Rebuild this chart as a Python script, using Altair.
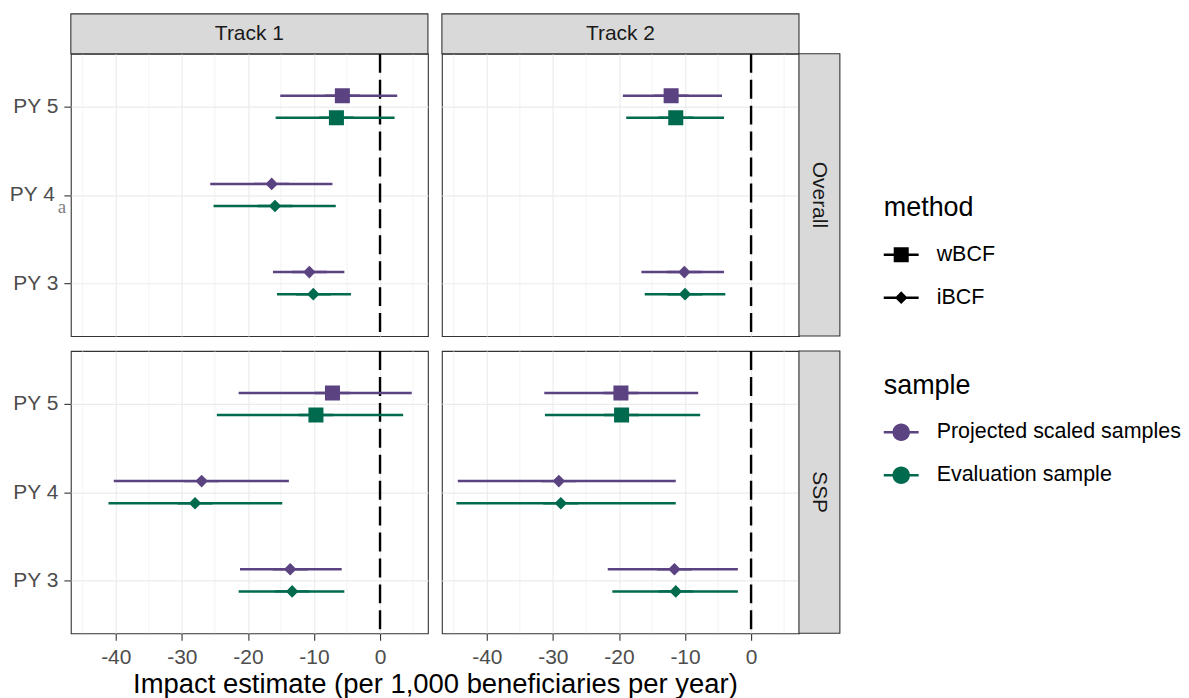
import altair as alt
import pandas as pd

FONT = "Liberation Sans"

# ---------------- data ----------------
tracks = ["Track 1", "Track 2"]
subgroups = ["Overall", "SSP"]
py_levels = ["PY 3", "PY 4", "PY 5"]
samples = ["Projected scaled samples", "Evaluation sample"]
methods = ["wBCF", "iBCF"]

row_track = (["Track 1"] * 6 + ["Track 2"] * 4 + ["Track 1"] * 6 + ["Track 2"] * 6)
row_subgroup = ["Overall"] * 10 + ["SSP"] * 12
row_py = (["PY 5", "PY 5", "PY 4", "PY 4", "PY 3", "PY 3"]
          + ["PY 5", "PY 5", "PY 3", "PY 3"]
          + ["PY 5", "PY 5", "PY 4", "PY 4", "PY 3", "PY 3"]
          + ["PY 5", "PY 5", "PY 4", "PY 4", "PY 3", "PY 3"])
row_sample = ["Projected scaled samples", "Evaluation sample"] * 11
row_method = (["wBCF", "wBCF", "iBCF", "iBCF", "iBCF", "iBCF"]
              + ["wBCF", "wBCF", "iBCF", "iBCF"]
              + ["wBCF", "wBCF", "iBCF", "iBCF", "iBCF", "iBCF"]
              + ["wBCF", "wBCF", "iBCF", "iBCF", "iBCF", "iBCF"])
estimate = [-5.7, -6.6, -16.4, -15.9, -10.7, -10.1,
            -12.1, -11.4, -10.1, -10.0,
            -7.2, -9.7, -27.0, -28.0, -13.6, -13.3,
            -19.7, -19.6, -29.1, -28.8, -11.6, -11.4]
lower = [-15.1, -15.8, -25.7, -25.2, -16.2, -15.6,
         -19.4, -18.9, -16.6, -16.1,
         -21.4, -24.7, -40.3, -41.1, -21.2, -21.4,
         -31.3, -31.2, -44.4, -44.6, -21.7, -21.0]
upper = [2.6, 2.2, -7.2, -6.7, -5.4, -4.4,
         -4.4, -4.1, -4.1, -3.9,
         4.8, 3.5, -13.8, -14.8, -5.8, -5.4,
         -8.0, -7.7, -11.4, -11.4, -2.0, -2.0]

major_ticks = [-40, -30, -20, -10, 0]
minor_ticks = [-45, -35, -25, -15, -5, 5]
x_domain = [-46.8, 7.25]
zero_line = [0]
note_py = ["PY 4"]
note_text = ["a"]
x_title = "Impact estimate (per 1,000 beneficiaries per year)"

df = pd.DataFrame({
    "track": row_track, "subgroup": row_subgroup, "py": row_py,
    "sample": row_sample, "method": row_method,
    "estimate": estimate, "lower": lower, "upper": upper,
})

PURPLE = "#5B4281"
GREEN = "#006A4E"
STRIP_FILL = "#D9D9D9"
BORDER = "#333333"

# legend glyphs: line + marker (custom SVG paths in a [-1,1] box)
LINE = "M-1,-0.071L1,-0.071L1,0.071L-1,0.071Z"
SQ = LINE + " M-0.43,-0.43L0.43,-0.43L0.43,0.43L-0.43,0.43Z"
DI = LINE + " M0,-0.36L0.36,0L0,0.36L-0.36,0Z"
CI = LINE + " M-0.5,0A0.5,0.5 0 1,1 0.5,0A0.5,0.5 0 1,1 -0.5,0Z"

W, H = 358, 283
STRIP = 40
RSTRIP = 41

xs = alt.Scale(domain=x_domain, nice=False, zero=False)
ys = alt.Scale(domain=[-0.6, 2.6], nice=False, zero=False)
cs = alt.Scale(domain=samples, range=[PURPLE, GREEN])
ss = alt.Scale(domain=methods, range=[SQ, DI])

ypos_expr = f"indexof({py_levels!r}, datum.py) + (datum.sample == '{samples[0]}' ? 0.125 : -0.125)"
label_expr = f"{py_levels!r}[datum.value]"

color_legend = alt.Legend(orient="none", legendX=815, legendY=320, symbolType=CI,
                          title="sample")
shape_legend = alt.Legend(orient="none", legendX=815, legendY=142, symbolFillColor="black",
                          title="method")


def top_strip(label):
    d = pd.DataFrame({"label": [label]})
    rect = alt.Chart(d).mark_rect(fill=STRIP_FILL, stroke=BORDER, strokeWidth=1.1).encode(
        x=alt.value(0), x2=alt.value(W), y=alt.value(-STRIP), y2=alt.value(0))
    txt = alt.Chart(d).mark_text(fontSize=21, color="#1A1A1A", font=FONT,
                                 baseline="middle", align="center").encode(
        text="label:N", x=alt.value(W / 2), y=alt.value(-STRIP / 2))
    return [rect, txt]


def right_strip(label):
    d = pd.DataFrame({"label": [label]})
    rect = alt.Chart(d).mark_rect(fill=STRIP_FILL, stroke=BORDER, strokeWidth=1.1).encode(
        x=alt.value(W), x2=alt.value(W + RSTRIP), y=alt.value(0), y2=alt.value(H))
    txt = alt.Chart(d).mark_text(fontSize=21, color="#1A1A1A", font=FONT,
                                 baseline="middle", align="center", angle=90).encode(
        text="label:N", x=alt.value(W + RSTRIP / 2), y=alt.value(H / 2))
    return [rect, txt]


def panel(track, sub, show_y, show_x, top, right, with_title=False, with_note=False):
    if show_x:
        xaxis = alt.Axis(values=major_ticks, grid=True, domain=False, ticks=True,
                         tickSize=7, tickWidth=1.1, tickColor=BORDER,
                         labels=True, labelFontSize=21, labelColor="#4D4D4D",
                         labelPadding=6, labelFlush=False, labelOverlap=False,
                         labelExpr="'' + datum.value",
                         title=x_title if with_title else None,
                         titleFontSize=27.5, titleFontWeight="normal", titleColor="black",
                         titleX=365, titleAlign="center", titlePadding=3, titleLimit=1000)
    else:
        xaxis = alt.Axis(values=major_ticks, grid=True, domain=False, ticks=False,
                         labels=False, title=None)
    if show_y:
        yaxis = alt.Axis(values=[0, 1, 2], grid=True, domain=False, ticks=True,
                         tickSize=7, tickWidth=1.1, tickColor=BORDER,
                         labelFontSize=21, labelColor="#4D4D4D",
                         labelPadding=(alt.condition("datum.value == 1", alt.value(9.5), alt.value(6))
                                       if with_note else 6),
                         labelExpr=label_expr, title=None)
    else:
        yaxis = alt.Axis(values=[0, 1, 2], grid=True, domain=False, ticks=False,
                         labels=False, title=None)

    base = alt.Chart(df).transform_filter(
        (alt.datum.track == track) & (alt.datum.subgroup == sub)
    ).transform_calculate(ypos=ypos_expr)

    minor = alt.Chart(pd.DataFrame({"v": minor_ticks})).mark_rule(
        color="#EBEBEB", strokeWidth=0.6
    ).encode(x=alt.X("v:Q", scale=xs))

    zero = alt.Chart(pd.DataFrame({"z": zero_line})).mark_rule(
        color="black", strokeWidth=2.4, strokeDash=[19, 7]
    ).encode(x=alt.X("z:Q", scale=xs))

    err = base.mark_rule(strokeWidth=2.5).encode(
        x=alt.X("lower:Q", scale=xs, axis=xaxis),
        x2="upper:Q",
        y=alt.Y("ypos:Q", scale=ys, axis=yaxis),
        color=alt.Color("sample:N", scale=cs, legend=color_legend),
    )
    pts = base.mark_point(filled=True, opacity=1, size=1225, strokeWidth=0).encode(
        x=alt.X("estimate:Q", scale=xs),
        y=alt.Y("ypos:Q", scale=ys),
        color=alt.Color("sample:N", scale=cs, legend=color_legend),
        shape=alt.Shape("method:N", scale=ss, legend=shape_legend),
    )
    layers = [minor, zero, err, pts]
    if with_note:
        note = alt.Chart(pd.DataFrame({"py": note_py, "note": note_text})).transform_calculate(
            ypos=f"indexof({py_levels!r}, datum.py)"
        ).mark_text(font="Liberation Serif", fontSize=19, color="#7F7F7F",
                    align="center", baseline="middle", dy=12).encode(
            x=alt.value(-9),
            y=alt.Y("ypos:Q", scale=ys),
            text="note:N",
        )
        layers.append(note)
    if top:
        layers += top_strip(track)
    if right:
        layers += right_strip(sub)
    return alt.layer(*layers).properties(width=W, height=H)


p11 = panel(tracks[0], subgroups[0], True, False, True, False, with_note=True)
p21 = panel(tracks[1], subgroups[0], False, False, True, True)
p12 = panel(tracks[0], subgroups[1], True, True, False, False, with_title=True)
p22 = panel(tracks[1], subgroups[1], False, True, False, True)

chart = alt.concat(p11, p21, p12, p22, columns=2, spacing={"row": 15, "column": 14},
                   bounds="flush").properties(
    padding={"left": 0, "top": 3, "right": 0, "bottom": 0}
).configure(font=FONT).configure_view(
    stroke=BORDER, strokeWidth=1.1
).configure_axis(
    gridColor="#EBEBEB", gridWidth=1.1, labelFont=FONT, titleFont=FONT
).configure_legend(
    titleFontSize=27, titleFontWeight="normal", titleColor="black", titleFont=FONT,
    labelFontSize=21.5, labelColor="black", labelFont=FONT, labelLimit=400,
    symbolSize=1225, rowPadding=15, titlePadding=15, labelOffset=18,
    symbolStrokeWidth=0, padding=0, symbolOpacity=1,
)

chart.save("out.html", embed_options={"renderer": "svg", "actions": False})
